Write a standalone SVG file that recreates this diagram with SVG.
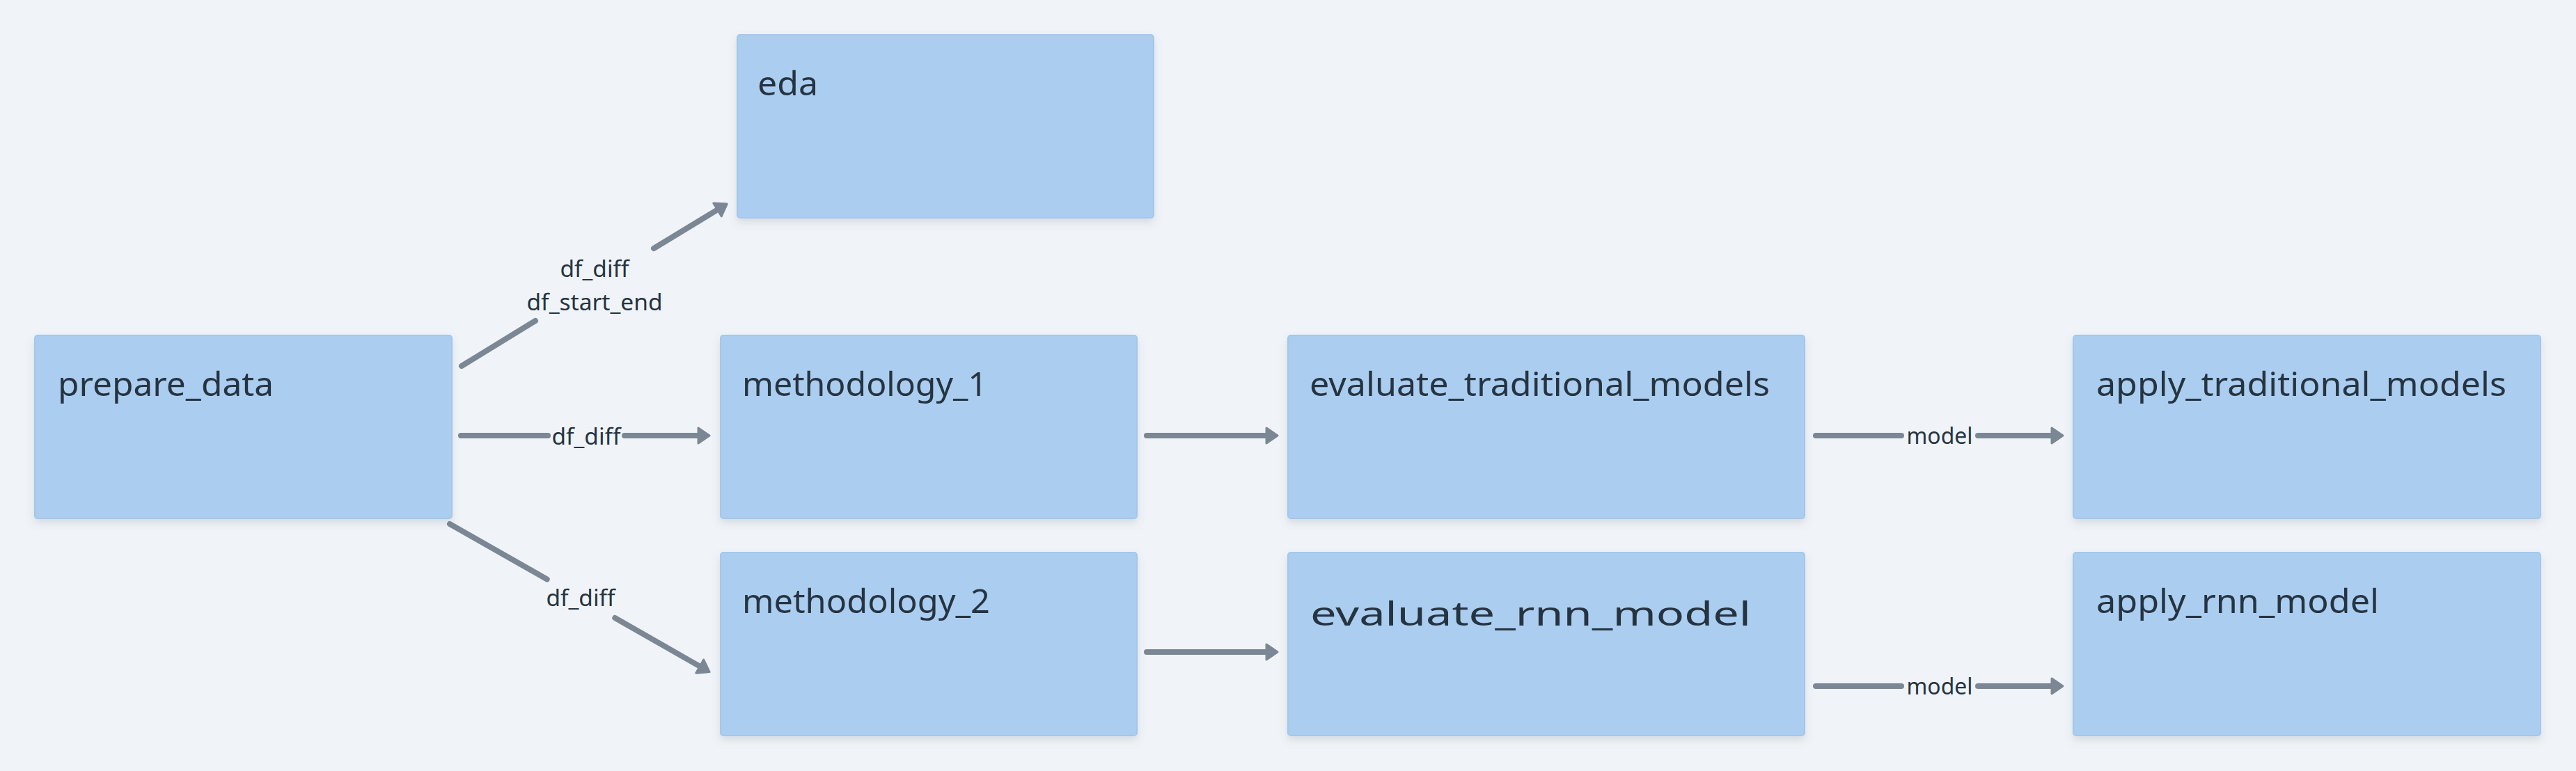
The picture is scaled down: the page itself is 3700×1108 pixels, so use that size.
<svg xmlns="http://www.w3.org/2000/svg" width="3700" height="1108" viewBox="0 0 3700 1108">
<style>
.node rect{fill:#abcef0;stroke:#a4c7eb;stroke-width:2;filter:url(#sh)}
.nl{font-family:"Noto Sans","DejaVu Sans",sans-serif;font-size:48px;fill:#263441}
.el{font-family:"Noto Sans","DejaVu Sans",sans-serif;font-size:32px;fill:#263441;text-anchor:middle}
.c path{fill:none;stroke:#7b8794;stroke-width:8;stroke-linecap:round}
</style>
<defs>
<filter id="sh" x="-5%" y="-10%" width="110%" height="130%">
<feDropShadow dx="0" dy="6" stdDeviation="6" flood-color="#5a6b7d" flood-opacity="0.18"/>
</filter>
<marker id="ah" markerUnits="userSpaceOnUse" markerWidth="26" markerHeight="30" viewBox="0 0 26 30" refX="4" refY="15" orient="auto">
<path d="M4,4 L20,15 L4,26 Z" fill="#7b8794" stroke="#7b8794" stroke-width="3" stroke-linejoin="round"/>
</marker>
</defs>
<rect width="3700" height="1108" fill="#f0f4f8"/>
<g class="c" id="connectors">
<path d="M663,526 L769,461"/>
<path d="M939,357 L1030.5,301.4" marker-end="url(#ah)"/>
<text class="el" x="854" y="397.5" textLength="99" lengthAdjust="spacingAndGlyphs">df_diff</text>
<text class="el" x="854" y="445.5" textLength="195" lengthAdjust="spacingAndGlyphs">df_start_end</text>
<path d="M662,626 L787,626"/>
<path d="M897,626 L1003,626" marker-end="url(#ah)"/>
<text class="el" x="842" y="638.5" textLength="99" lengthAdjust="spacingAndGlyphs">df_diff</text>
<path d="M646,753 L785.7,832.4"/>
<path d="M883.3,888 L1005.2,957.6" marker-end="url(#ah)"/>
<text class="el" x="834" y="871" textLength="99" lengthAdjust="spacingAndGlyphs">df_diff</text>
<path d="M1647,626 L1819,626" marker-end="url(#ah)"/>
<path d="M1647,937 L1819,937" marker-end="url(#ah)"/>
<path d="M2608,626 L2731,626"/>
<path d="M2841,626 L2947,626" marker-end="url(#ah)"/>
<text class="el" x="2786" y="637.5" textLength="95" lengthAdjust="spacingAndGlyphs">model</text>
<path d="M2608,986 L2731,986"/>
<path d="M2841,986 L2947,986" marker-end="url(#ah)"/>
<text class="el" x="2786" y="997.5" textLength="95" lengthAdjust="spacingAndGlyphs">model</text>
</g>
<g class="node" id="eda">
<rect x="1059" y="50" width="598" height="263" rx="4"/>
<text class="nl" x="1088" y="137" textLength="87" lengthAdjust="spacingAndGlyphs">eda</text>
</g>
<g class="node" id="prepare_data">
<rect x="50" y="482" width="599" height="263" rx="4"/>
<text class="nl" x="83" y="569" textLength="310" lengthAdjust="spacingAndGlyphs">prepare_data</text>
</g>
<g class="node" id="methodology_1">
<rect x="1035" y="482" width="598" height="263" rx="4"/>
<text class="nl" x="1066" y="569" textLength="352" lengthAdjust="spacingAndGlyphs">methodology_1</text>
</g>
<g class="node" id="methodology_2">
<rect x="1035" y="794" width="598" height="263" rx="4"/>
<text class="nl" x="1066" y="881" textLength="356" lengthAdjust="spacingAndGlyphs">methodology_2</text>
</g>
<g class="node" id="evaluate_traditional_models">
<rect x="1850" y="482" width="742" height="263" rx="4"/>
<text class="nl" x="1881" y="569" textLength="661" lengthAdjust="spacingAndGlyphs">evaluate_traditional_models</text>
</g>
<g class="node" id="evaluate_rnn_model">
<rect x="1850" y="794" width="742" height="263" rx="4"/>
<text class="nl" x="1882" y="899" font-size="64" textLength="633" lengthAdjust="spacingAndGlyphs">evaluate_rnn_model</text>
</g>
<g class="node" id="apply_traditional_models">
<rect x="2978" y="482" width="671" height="263" rx="4"/>
<text class="nl" x="3011" y="569" textLength="589" lengthAdjust="spacingAndGlyphs">apply_traditional_models</text>
</g>
<g class="node" id="apply_rnn_model">
<rect x="2978" y="794" width="671" height="263" rx="4"/>
<text class="nl" x="3011" y="881" textLength="406" lengthAdjust="spacingAndGlyphs">apply_rnn_model</text>
</g>
</svg>
